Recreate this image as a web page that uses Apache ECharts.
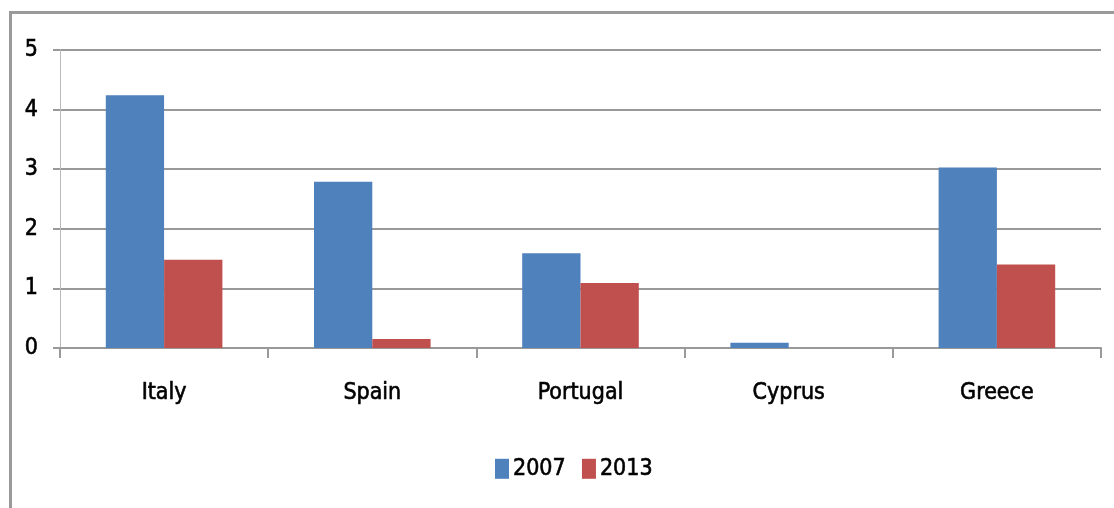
<!DOCTYPE html>
<html>
<head>
<meta charset="utf-8">
<script src="https://cdn.jsdelivr.net/npm/echarts@6/dist/echarts.min.js"></script>
<style>
  html, body { margin: 0; padding: 0; background: #fff; overflow: hidden; }
  #frame {
    position: absolute; left: 9px; top: 11px; width: 1200px; height: 600px;
    border-left: 3px solid #9a9a9a; border-top: 3px solid #9a9a9a;
  }
  #chart { position: absolute; left: 0; top: 0; width: 1114px; height: 508px; }
</style>
</head>
<body>
<div id="frame"></div>
<div id="chart"></div>
<script>
const countries = ['Italy', 'Spain', 'Portugal', 'Cyprus', 'Greece'];
const values2007 = [4.24, 2.79, 1.59, 0.09, 3.03];
const values2013 = [1.48, 0.15, 1.09, 0, 1.40];
const yTicks = [0, 1, 2, 3, 4, 5];

const labelFont = "'DejaVu Sans Condensed', sans-serif";
const heavy = { color: '#000', fontFamily: labelFont, textBorderColor: '#000', textBorderWidth: 0.6 };

const chart = echarts.init(document.getElementById('chart'));

const option = {
  animation: false,
  grid: { left: 60, right: 13, top: 50, bottom: 160, containLabel: false },
  legend: {
    data: ['2007', '2013'],
    top: 452,
    left: 490,
    icon: 'rect',
    itemWidth: 14,
    itemHeight: 20,
    itemGap: 16,
    textStyle: Object.assign({ fontSize: 23, padding: [0, 0, 0, -1] }, heavy)
  },
  xAxis: {
    type: 'category',
    data: countries,
    boundaryGap: true,
    axisLine: { lineStyle: { color: '#999', width: 2 } },
    axisTick: { show: true, length: 10, lineStyle: { color: '#999', width: 2 } },
    axisLabel: Object.assign({ fontSize: 23, margin: 34 }, heavy)
  },
  yAxis: {
    type: 'value',
    min: yTicks[0],
    max: yTicks[yTicks.length - 1],
    interval: 1,
    axisLine: { show: true, lineStyle: { color: '#bbb', width: 1 } },
    axisTick: { show: true, length: 7, lineStyle: { color: '#999', width: 2 } },
    axisLabel: Object.assign({ fontSize: 23, margin: 22, padding: [4, 0, 0, 0] }, heavy),
    splitLine: { lineStyle: { color: '#999', width: 2 } }
  },
  series: [
    {
      name: '2007',
      type: 'bar',
      data: values2007,
      barGap: '0%',
      barCategoryGap: '44%',
      itemStyle: { color: '#4F81BD' }
    },
    {
      name: '2013',
      type: 'bar',
      data: values2013,
      itemStyle: { color: '#C0504D' }
    }
  ]
};

chart.setOption(option);
</script>
</body>
</html>
